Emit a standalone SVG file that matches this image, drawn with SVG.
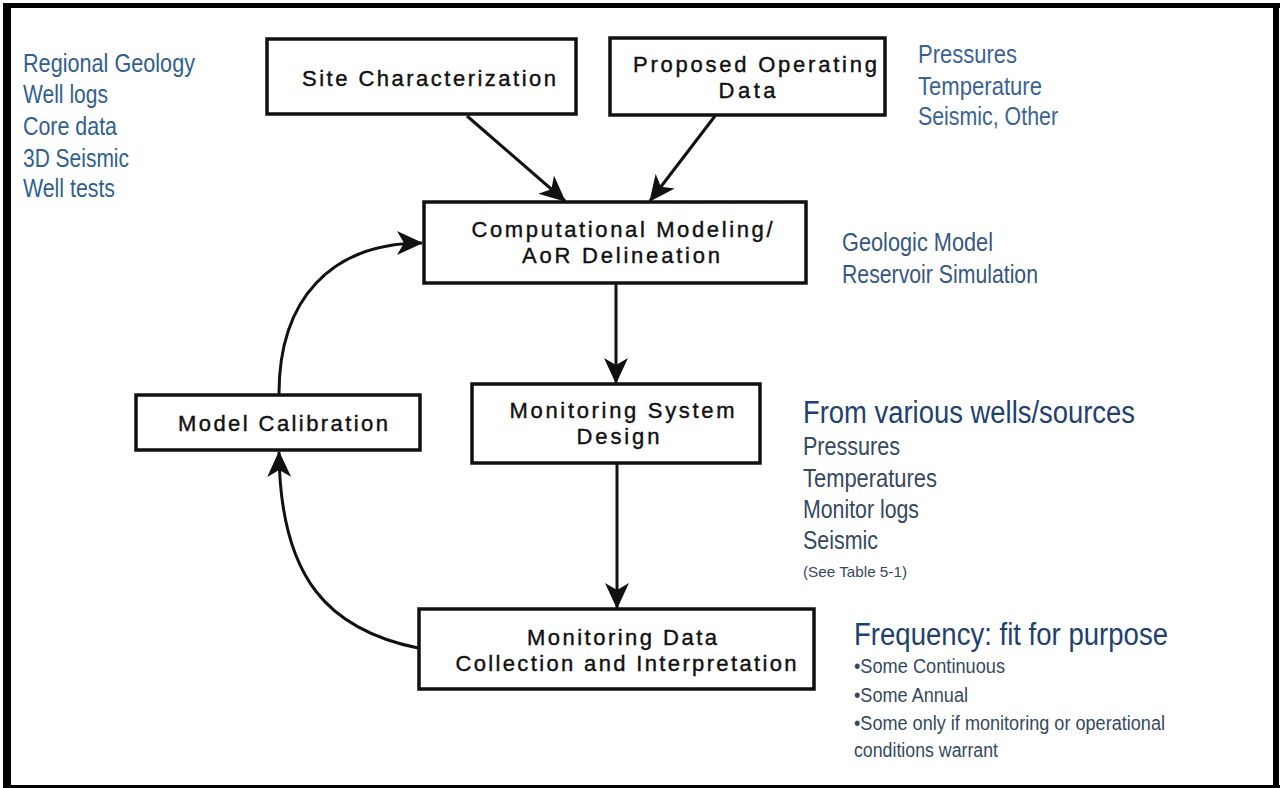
<svg xmlns="http://www.w3.org/2000/svg" width="1282" height="788" viewBox="0 0 1282 788">
<style>
.box{fill:#fff;stroke:#111;stroke-width:3.5}
.lbl{font-family:"Liberation Sans",Arial,sans-serif;font-size:22px;fill:#111;stroke:#111;stroke-width:0.4;text-anchor:middle}
.con{fill:none;stroke:#111;stroke-width:3}
.bt{font-family:"Liberation Sans",Arial,sans-serif;font-size:26px}
.c1{fill:#2f5f93}
.c2{fill:#3a6394}
.c3{fill:#36577f}
.hd{fill:#1e4170;font-size:31px}
.li{fill:#34495f}
.sm{font-size:20px}
</style>
<defs>
<marker id="ah" viewBox="0 0 26 24" markerWidth="26" markerHeight="24" refX="25" refY="12" orient="auto" markerUnits="userSpaceOnUse">
<path d="M0,0 L26,12 L0,24 L7,12 Z" fill="#111"/>
</marker>
</defs>
<rect x="0" y="0" width="1282" height="788" fill="#fff"/>
<g id="frame" fill="#000">
<rect x="3" y="3" width="1277" height="5"/>
<rect x="3" y="3" width="8" height="785"/>
<rect x="1273" y="3" width="6" height="785"/>
<rect x="3" y="785" width="1277" height="3"/>
</g>
<g id="connectors">
<line class="con" x1="467" y1="116" x2="565" y2="201" marker-end="url(#ah)"/>
<line class="con" x1="715" y1="116" x2="650" y2="201" marker-end="url(#ah)"/>
<line class="con" x1="616" y1="284" x2="616" y2="383" marker-end="url(#ah)"/>
<line class="con" x1="617" y1="463" x2="617" y2="608" marker-end="url(#ah)"/>
<path class="con" d="M418,648 C330,630 280,580 279,452" marker-end="url(#ah)"/>
<path class="con" d="M279,394 C279,300 330,243 422,243" marker-end="url(#ah)"/>
</g>
<g id="site">
<rect class="box" x="267" y="39" width="309" height="75"/>
<text class="lbl" x="429" y="86" textLength="254" lengthAdjust="spacing">Site Characterization</text>
</g>
<g id="proposed">
<rect class="box" x="610" y="38" width="275" height="77"/>
<text class="lbl" x="755" y="72" textLength="244" lengthAdjust="spacing">Proposed Operating</text>
<text class="lbl" x="747" y="98" textLength="57" lengthAdjust="spacing">Data</text>
</g>
<g id="comp">
<rect class="box" x="424" y="202" width="382" height="81"/>
<text class="lbl" x="622" y="237" textLength="301" lengthAdjust="spacing">Computational Modeling/</text>
<text class="lbl" x="621" y="263" textLength="198" lengthAdjust="spacing">AoR Delineation</text>
</g>
<g id="msd">
<rect class="box" x="472" y="384" width="288" height="79"/>
<text class="lbl" x="622" y="418" textLength="225" lengthAdjust="spacing">Monitoring System</text>
<text class="lbl" x="618" y="444" textLength="83" lengthAdjust="spacing">Design</text>
</g>
<g id="mdc">
<rect class="box" x="419" y="609" width="395" height="80"/>
<text class="lbl" x="622" y="645" textLength="190" lengthAdjust="spacing">Monitoring Data</text>
<text class="lbl" x="626" y="671" textLength="341" lengthAdjust="spacing">Collection and Interpretation</text>
</g>
<g id="mc">
<rect class="box" x="136" y="395" width="284" height="55"/>
<text class="lbl" x="283" y="431" textLength="210" lengthAdjust="spacing">Model Calibration</text>
</g>
<g id="notes-left" class="bt c1">
<text x="23" y="72" textLength="172" lengthAdjust="spacingAndGlyphs">Regional Geology</text>
<text x="23" y="103" textLength="85" lengthAdjust="spacingAndGlyphs">Well logs</text>
<text x="23" y="135" textLength="94" lengthAdjust="spacingAndGlyphs">Core data</text>
<text x="23" y="167" textLength="106" lengthAdjust="spacingAndGlyphs">3D Seismic</text>
<text x="23" y="197" textLength="92" lengthAdjust="spacingAndGlyphs">Well tests</text>
</g>
<g id="notes-top" class="bt c2">
<text x="918" y="63" textLength="99" lengthAdjust="spacingAndGlyphs">Pressures</text>
<text x="918" y="95" textLength="124" lengthAdjust="spacingAndGlyphs">Temperature</text>
<text x="918" y="125" textLength="140" lengthAdjust="spacingAndGlyphs">Seismic, Other</text>
</g>
<g id="notes-model" class="bt c3">
<text x="842" y="251" textLength="151" lengthAdjust="spacingAndGlyphs">Geologic Model</text>
<text x="842" y="283" textLength="196" lengthAdjust="spacingAndGlyphs">Reservoir Simulation</text>
</g>
<g id="notes-wells" class="bt">
<text class="hd" x="803" y="423" textLength="332" lengthAdjust="spacingAndGlyphs">From various wells/sources</text>
<text class="li" x="803" y="455" textLength="97" lengthAdjust="spacingAndGlyphs">Pressures</text>
<text class="li" x="803" y="487" textLength="134" lengthAdjust="spacingAndGlyphs">Temperatures</text>
<text class="li" x="803" y="518" textLength="116" lengthAdjust="spacingAndGlyphs">Monitor logs</text>
<text class="li" x="803" y="549" textLength="75" lengthAdjust="spacingAndGlyphs">Seismic</text>
<text class="li" x="803" y="577" font-size="15" textLength="104" lengthAdjust="spacingAndGlyphs">(See Table 5-1)</text>
</g>
<g id="notes-freq" class="bt">
<text class="hd" x="854" y="645" textLength="314" lengthAdjust="spacingAndGlyphs">Frequency: fit for purpose</text>
<text class="li sm" x="854" y="673" textLength="151" lengthAdjust="spacingAndGlyphs">•Some Continuous</text>
<text class="li sm" x="854" y="702" textLength="114" lengthAdjust="spacingAndGlyphs">•Some Annual</text>
<text class="li sm" x="854" y="730" textLength="311" lengthAdjust="spacingAndGlyphs">•Some only if monitoring or operational</text>
<text class="li sm" x="854" y="757" textLength="144" lengthAdjust="spacingAndGlyphs">conditions warrant</text>
</g>
</svg>
